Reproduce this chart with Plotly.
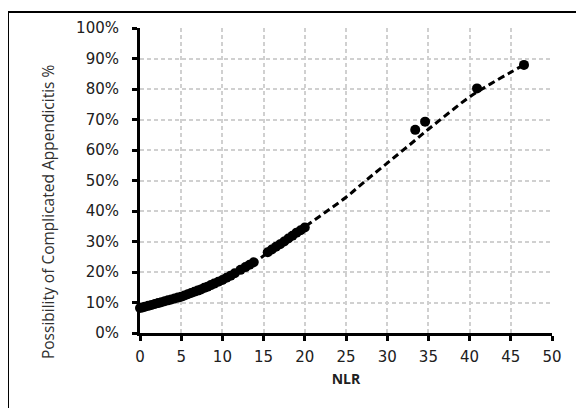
import plotly.graph_objects as go

# Observed data points (NLR, probability %)
nlr_points = [0, 0.3, 0.6, 1.0, 1.4, 1.8, 2.2, 2.6, 3.0, 3.4, 3.8, 4.2, 4.6, 5.0, 5.4,
              5.8, 6.2, 6.6, 7.0, 7.4, 7.8, 8.2, 8.6, 9.0, 9.5, 10.0, 10.5, 11.0, 11.5,
              12.2, 12.8, 13.3, 13.8, 15.5, 16.0, 16.5, 17.0, 17.5, 18.0, 18.5, 19.0,
              19.5, 20.0, 33.4, 34.6, 40.9, 46.6]
prob_points = [8.2, 8.4, 8.6, 8.9, 9.2, 9.5, 9.8, 10.1, 10.4, 10.7, 11.0, 11.3, 11.6, 11.9,
               12.3, 12.7, 13.1, 13.5, 13.9, 14.3, 14.8, 15.2, 15.7, 16.2, 16.8, 17.4,
               18.1, 18.8, 19.6, 20.7, 21.6, 22.4, 23.2, 26.5, 27.4, 28.3, 29.1, 30.0,
               31.0, 31.9, 32.9, 33.7, 34.6, 66.6, 69.3, 80.2, 87.9]

# Fitted dashed trend line (NLR, probability %)
nlr_fit = [0, 2.5, 5, 7.5, 10, 12.5, 15, 17.5, 20, 22.5, 25, 27.5, 30, 32.5, 35,
           37.5, 40, 42.5, 45, 46.6]
prob_fit = [8.2, 9.9, 11.9, 14.2, 16.9, 20.5, 25.3, 30.0, 34.8, 39.6, 44.5, 50.2, 55.7,
            61.2, 66.8, 72.2, 77.4, 81.6, 85.5, 87.9]

x_ticks = [0, 5, 10, 15, 20, 25, 30, 35, 40, 45, 50]
y_ticks = [0, 10, 20, 30, 40, 50, 60, 70, 80, 90, 100]
y_tick_labels = [f"{v}%" for v in y_ticks]

fig = go.Figure()
fig.add_trace(go.Scatter(
    x=nlr_points, y=prob_points, mode="markers",
    marker=dict(color="black", size=10, line=dict(width=0)),
    showlegend=False, cliponaxis=False))
fig.add_trace(go.Scatter(
    x=nlr_fit, y=prob_fit, mode="lines", line_shape="spline",
    line=dict(color="black", width=3, dash="7px,4px"),
    showlegend=False))

tick_font = dict(family="DejaVu Sans, sans-serif", size=15, color="#202020")

fig.update_layout(
    width=584, height=408,
    margin=dict(l=132, r=40, t=20, b=83),
    paper_bgcolor="white", plot_bgcolor="white",
    font=dict(family="Open Sans, Liberation Sans, sans-serif", color="#202020"),
    xaxis=dict(
        range=[0, 50], tickvals=x_ticks, ticks="outside", ticklen=5, tickwidth=3,
        tickcolor="black", showline=True, linecolor="black", linewidth=3,
        showgrid=True, gridcolor="#d0d0d0", gridwidth=1.5, griddash="4px,3px",
        zeroline=False, tickfont=tick_font, ticklabelstandoff=3,
        title=dict(text="<b>NLR</b>", font=dict(size=14, color="#202020"), standoff=10),
    ),
    yaxis=dict(
        range=[0, 100], tickvals=y_ticks, ticktext=y_tick_labels, ticks="outside",
        ticklen=5, tickwidth=3, tickcolor="black", showline=True, linecolor="black",
        linewidth=3, showgrid=True, gridcolor="#d0d0d0", gridwidth=1.5,
        griddash="4px,3px", zeroline=False, tickfont=tick_font, ticklabelstandoff=10,
    ),
    shapes=[dict(type="rect", xref="paper", yref="paper",
                 x0=-0.3204, x1=1.1, y0=-0.3, y1=1.0525,
                 line=dict(color="black", width=2), layer="below")],
    annotations=[dict(text="Possibility of Complicated Appendicitis %",
                      xref="paper", yref="paper", x=-0.223, y=0.397,
                      xanchor="center", yanchor="middle",
                      textangle=-90, showarrow=False,
                      font=dict(size=15.5, color="#303030"))],
)

fig.write_html("out.html")
